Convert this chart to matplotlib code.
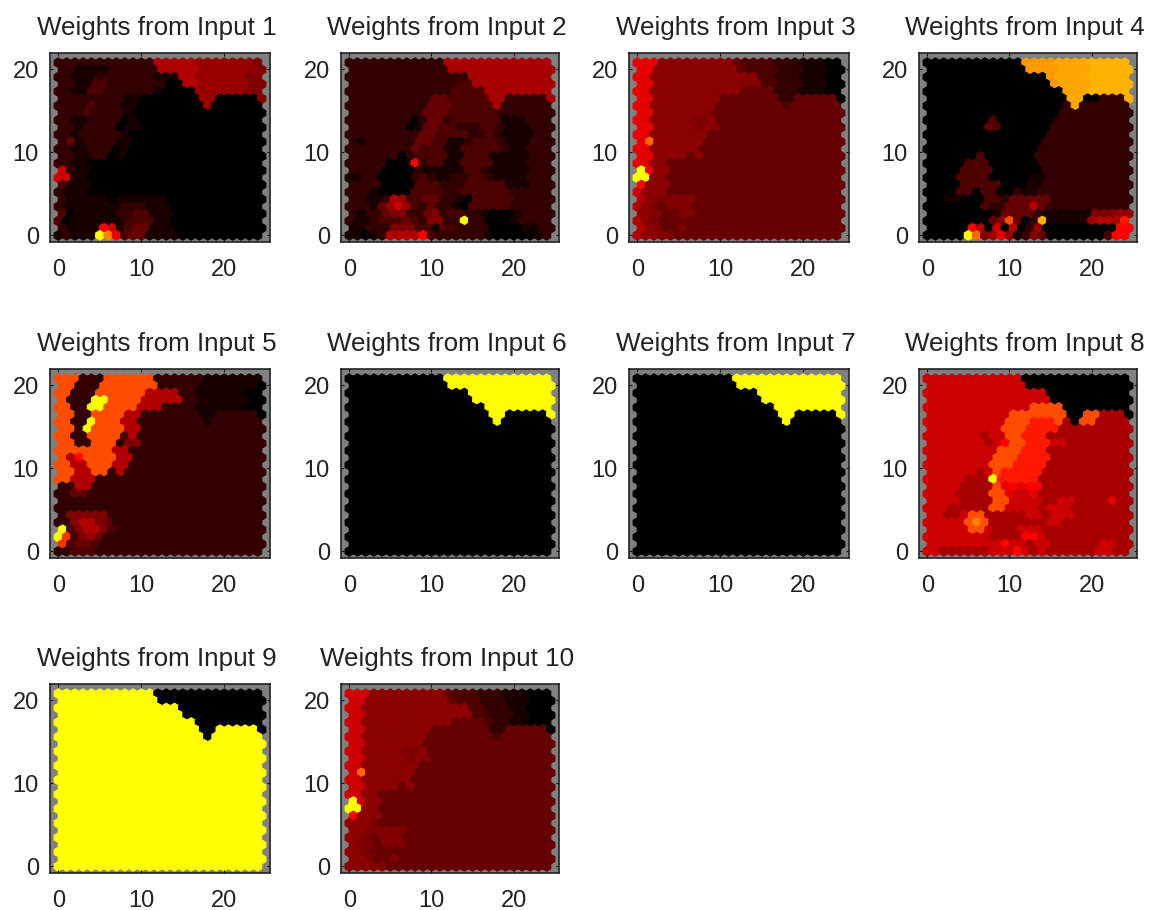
import numpy as np
import matplotlib
matplotlib.use("Agg")
import matplotlib.pyplot as plt
from matplotlib.collections import PolyCollection
from matplotlib.colors import LinearSegmentedColormap

plt.rcParams["font.family"] = ["Liberation Sans", "DejaVu Sans"]

# ======== Data: weight levels per neuron, top row first ========
# one character per neuron, 0-9 then a-k, meaning 0/20 ... 20/20
LEVELS = {ch: i / 20 for i, ch in enumerate("0123456789abcdefghijk")}
# a few in-between shades
LEVELS.update({"m": 5.5 / 20, "n": 6.6 / 20, "G": 16.5 / 20})

PLANE_1 = [
    "2222222222227777766666665",
    "2211112222227777766666665",
    "2211122222221117766666655",
    "2211332222222007766666655",
    "2211332222221000066666655",
    "2222222211000000066000005",
    "2222322211000000006000000",
    "2223222210000000000000000",
    "2211222201000000000000000",
    "2212222011000000000000000",
    "2212222210000000000000000",
    "2412222110000000000000000",
    "2211222010000000000000000",
    "2211220100000000000000000",
    "2211000000000000000000000",
    "8211000000000000000000000",
    "8811000000000000000000000",
    "3111000000000000000000000",
    "2111000000000000000000000",
    "2111110111111000000000000",
    "2111111122211100000000000",
    "3011111223311100000000000",
    "3011111123331100000000000",
    "21111a8134411100000000000",
    "12111kf934411110000000000",
]
PLANE_2 = [
    "222222222222nnnnnnnnnnnnn",
    "222222222222nnnnnnnnnnnnn",
    "222222222222222nnnnnnnnnn",
    "222222222222233nnnnnnnnnn",
    "22222222222223333nnnnnnnn",
    "22222222224433333nn22222n",
    "222222222244433333n222222",
    "2222222224443333332222222",
    "2222222202442333333111222",
    "2222222014433222332111222",
    "2222222224433332232111122",
    "2122222244331123332111222",
    "2222222243331133333211222",
    "2222220233331133311111222",
    "22222000a2331133331111222",
    "2222000021111133211111222",
    "1122000023211223321111222",
    "2222000033322233333111222",
    "2221000033332233333322222",
    "2211276334422103333322222",
    "2221468632422103333322222",
    "2122455224523322100012222",
    "21123334325522k2200012222",
    "1122255533133222200001122",
    "110127777a322222210000012",
]
PLANE_3 = [
    "999mmmmmmmmm4333322211100",
    "99mmmmmmmmmm4333322211100",
    "99mmmmmmmmmmmmm3322211100",
    "99mmmmmmmmmmm553322211100",
    "99mmmmmmmmmmm444422211100",
    "99mmmmmmmm444444422444440",
    "99mmmmmmmm444444443444444",
    "99mmmmmmm4444444444444444",
    "99mmmmm55m444444444444444",
    "99mmmmm5m5444444444444444",
    "99mmmmmmm4444444444444444",
    "9emmmmmm44444444444444444",
    "99mmmmmm44444444444444444",
    "99mmmm4m44444444444444444",
    "99mm444444444444444444444",
    "k9mm444444444444444444444",
    "kkmm444444444444444444444",
    "ammm444444444444444444444",
    "8mmm444444444444444444444",
    "7m55555444444444444444444",
    "7m54555444444444444444444",
    "mm54455444444444444444444",
    "7m54444444444444444444444",
    "7m54454444444444444444444",
    "7mm5544444444444444444444",
]
PLANE_4 = [
    "000000000000ggggGGGGhhhhh",
    "000000000000ggggGGGGhhhhh",
    "000000000000000gGGGGhhhhh",
    "000000000000000gGGGGhhhhh",
    "00000000000000000GGGhhhhh",
    "00000000000000000GG00222h",
    "000000000000000002G222222",
    "0000000000000000222222222",
    "0000000030000000222222222",
    "0000000430000002222222222",
    "0000000000000002222222222",
    "0000000000000022222222222",
    "0000000000000022222222222",
    "0000003000000222222222222",
    "0000033300000022222222222",
    "0000333300000022222222222",
    "0000333300000112222222222",
    "0000333330001122222222222",
    "0000330330021122222222222",
    "0011000332444442222222222",
    "0000000322444742222222222",
    "0000000014444211111155566",
    "0000000045d402h111116777b",
    "00000a70807026000000000aa",
    "00000ke5696125400000003aa",
]
PLANE_5 = [
    "ddd222dddddd2222221111111",
    "dd222ddddddd2222211111110",
    "dd222dddddd77772211111100",
    "d222kkdddd777772211111100",
    "dd22kkdddd777222211111100",
    "dd22dddd77222222211222220",
    "dd22kddd77222222221222222",
    "dd2kdddd77222222222222222",
    "dd22dddd37222222222222222",
    "dd22ddd255222222222222222",
    "ddddddd772222222222222222",
    "d7adddd772222222222222222",
    "dd77ddd772222222222222222",
    "dd77dd2722222222222222222",
    "dd77722222222222222222222",
    "2277222222222222222222222",
    "2244222222222222222222222",
    "2222222222222222222222222",
    "2222222222222222222222222",
    "2555552222222222222222222",
    "2257754222222222222222222",
    "k357753222222222222222222",
    "kc35642222222222222222222",
    "c344322222222222222222222",
    "2233322222222222222222222",
]
PLANE_6 = [
    "000000000000kkkkkkkkkkkkk",
    "000000000000kkkkkkkkkkkkk",
    "000000000000000kkkkkkkkkk",
    "000000000000000kkkkkkkkkk",
    "00000000000000000kkkkkkkk",
    "00000000000000000kk00000k",
    "000000000000000000k000000",
] + ["0000000000000000000000000"] * 18
PLANE_7 = [
    "000000000000kkkkkkkkkkkkk",
    "000000000000kkkkkkkkkkkkk",
    "000000000000000kkkkkkkkkk",
    "000000000000000kkkkkkkkkk",
    "00000000000000000kkkkkkkk",
    "00000000000000000kk00000k",
    "000000000000000000k000000",
] + ["0000000000000000000000000"] * 18
PLANE_8 = [
    "8888888888880000000000000",
    "8888888888880000000000000",
    "8888888888888880000000000",
    "8888888888888880000000000",
    "8888888888888dddd00000000",
    "8888888888ddddddd00ddnnn0",
    "8888888888dddbbbdn0ddnnnn",
    "888888888dddbbbbnnnnnnnnn",
    "8888888n88ddbbbnnnnnnnnnn",
    "8888888n8addbbb88nnnnnnnn",
    "888888888dddbbbnnnnnnnnnn",
    "88888888dddbbbbnnnnnnnnnn",
    "88888888dddbbbbnnnnnnnnnn",
    "888888n8dbbbbbnnnnnnnnnnn",
    "88888nnnkbbbbbnnnnnnnnnnn",
    "8888nnnnd9a9aannnnnnnnnnn",
    "8888nnnndd9889nnnnnnnnnnn",
    "8888nnnndd8888nn88nnnn9nn",
    "888nnnnndd8888n888nnnnnnn",
    "88nn8ddnnnnn88n888nnnnnnn",
    "88888dfdnnnnnnn88nnnnnnnn",
    "88888dd8nnn888nnnnnnnnnnn",
    "88888888nnnnaa8nnnnnnnnnn",
    "888888888a88n88nnnnnn88nn",
    "88nnnnnn888a8n8nnnnnn88nn",
]
PLANE_9 = [
    "kkkkkkkkkkkk0000000000000",
    "kkkkkkkkkkkk0000000000000",
    "kkkkkkkkkkkkkkk0000000000",
    "kkkkkkkkkkkkkkk0000000000",
    "kkkkkkkkkkkkkkkkk00000000",
    "kkkkkkkkkkkkkkkkk00kkkkk0",
    "kkkkkkkkkkkkkkkkkk0kkkkkk",
] + ["kkkkkkkkkkkkkkkkkkkkkkkkk"] * 18
PLANE_10 = [
    "888mmmmmmmmm4333222111000",
    "88mmmmmmmmmm4333222111000",
    "88mmmmmmmmmmmmm3322211000",
    "88mmmmmmmmmmmmm3322211000",
    "88mmmmmmmmmmm444432211000",
    "88mmmmmmmm444444422444440",
    "88mmmmmmmm444444443444444",
    "88mmmmmmm4444444444444444",
    "88mmmmm55m444444444444444",
    "88mmmmm5m5444444444444444",
    "88mmmmmmm4444444444444444",
    "8emmmmmm44444444444444444",
    "88mmmmmm44444444444444444",
    "88mmmm4m44444444444444444",
    "88mm444444444444444444444",
    "k8mm444444444444444444444",
    "kkmm444444444444444444444",
    "ammm444444444444444444444",
    "mmm5444444444444444444444",
    "mm55555444444444444444444",
    "mm54555444444444444444444",
    "m554555444444444444444444",
    "mm54444444444444444444444",
    "mm54454444444444444444444",
    "mmm5544444444444444444444",
]

PLANES = [PLANE_1, PLANE_2, PLANE_3, PLANE_4, PLANE_5,
          PLANE_6, PLANE_7, PLANE_8, PLANE_9, PLANE_10]
TITLES = [f"Weights from Input {i}" for i in range(1, 11)]
TICKS = [0, 10, 20]

# ======== Layout (pixels of the 1150x910 figure) ========
FIG_W, FIG_H = 1150, 910
LEFTS = [50, 341, 629, 919]
WIDTHS = [220, 218, 220, 218]
TOPS = [53, 369, 684]
HEIGHT = 189

hot = LinearSegmentedColormap.from_list(
    "blackredyellow", ["#000000", "#ff0000", "#ffff00"], N=256)


def hex_cells(rows):
    """Turn rows of level characters into hexagon polygons and values."""
    polys, vals = [], []
    angles = np.deg2rad(np.arange(30, 390, 60))
    radius = 1 / np.sqrt(3)
    for i, row in enumerate(rows):
        r = len(rows) - 1 - i
        for c, ch in enumerate(row):
            cx = c + 0.5 * (r % 2)
            cy = r * np.sqrt(3) / 2
            polys.append(np.column_stack([cx + radius * np.cos(angles),
                                          cy + radius * np.sin(angles)]))
            vals.append(LEVELS[ch])
    return polys, vals


fig = plt.figure(figsize=(FIG_W / 100, FIG_H / 100), dpi=100)

for n, rows in enumerate(PLANES):
    for row in rows:
        if len(row) != 25:
            print("[WARN] bad row", n + 1, row, len(row))
    col = n % 4
    top = TOPS[n // 4]
    ax = fig.add_axes([LEFTS[col] / FIG_W, 1 - (top + HEIGHT) / FIG_H,
                       WIDTHS[col] / FIG_W, HEIGHT / FIG_H])
    ax.set_facecolor("#808080")
    polys, vals = hex_cells(rows)
    coll = PolyCollection(polys, array=np.array(vals), cmap=hot,
                          edgecolors="face", linewidths=0.8)
    coll.set_clim(0, 1)
    ax.add_collection(coll)
    ax.set_xlim(-1, 25.5)
    ax.set_ylim(-0.8, 21.95)
    ax.set_xticks(TICKS)
    ax.set_yticks(TICKS)
    ax.tick_params(direction="in", length=2.5, width=0.8, top=True, right=True,
                   labelsize=17, color="#111111", labelcolor="#222222")
    ax.tick_params(axis="x", pad=12)
    ax.tick_params(axis="y", pad=8)
    for s in ax.spines.values():
        s.set_linewidth(1.2)
        s.set_color("#222222")
    ax.set_title(TITLES[n], fontsize=18.7, pad=13, x=0.486, color="#222222")

fig.savefig("out.png", dpi=100)
plt.close(fig)
